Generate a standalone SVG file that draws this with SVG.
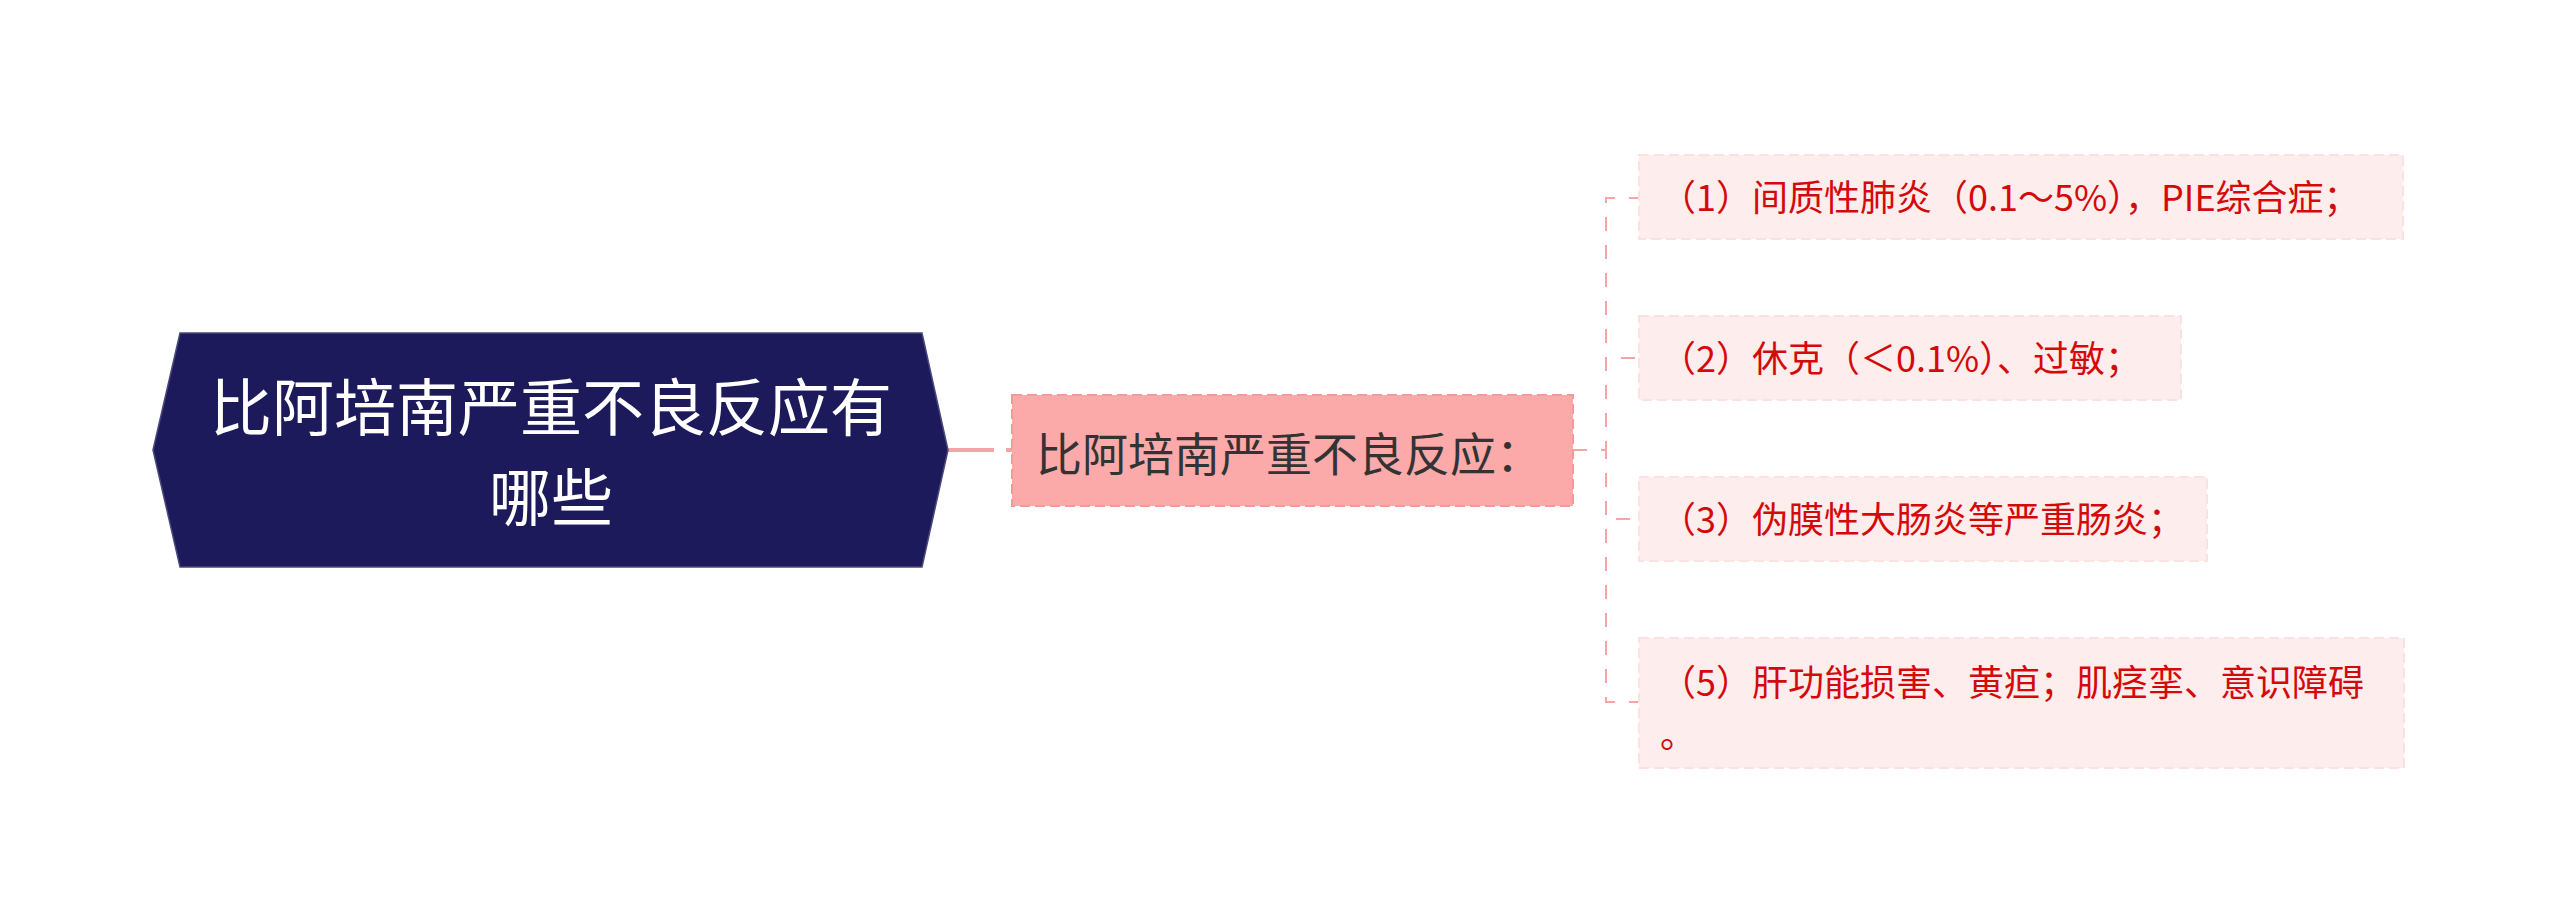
<svg xmlns="http://www.w3.org/2000/svg" width="2560" height="924" viewBox="0 0 2560 924">
<style>
.t{font-family:"Noto Sans CJK SC","Noto Sans",sans-serif}
.root{fill:#1c1a5b;stroke:#4a4a7a;stroke-width:1.5}
.rt{fill:#ffffff;font-size:62px}
.mid{fill:#fca9a9;stroke:#f09a9a;stroke-width:2;stroke-dasharray:10 5}
.mt{fill:#333333;font-size:46px}
.leaf{fill:#fdeded;stroke:#fbe2e2;stroke-width:2;stroke-dasharray:10 5}
.lt{fill:#d40a0a;font-size:36px}
.c1{fill:none;stroke:#f4a5a5;stroke-width:4;stroke-dasharray:46 12}
.c2{fill:none;stroke:#f4a5a5;stroke-width:2;stroke-dasharray:14 14}
</style>
<rect width="2560" height="924" fill="#ffffff"/>
<g id="connectors">
<path class="c1" d="M948,450 H1012"/>
<path class="c2" d="M1573,450 H1606 V198 H1639"/>
<path class="c2" d="M1573,450 H1606 V358 H1639"/>
<path class="c2" d="M1573,450 H1606 V519 H1639"/>
<path class="c2" d="M1573,450 H1606 V702 H1639"/>
</g>
<g id="root">
<polygon class="root" points="153,450 180,333 922,333 948,450 922,567 180,567"/>
<text class="t rt" x="551" y="431" text-anchor="middle">比阿培南严重不良反应有</text>
<text class="t rt" x="551" y="521" text-anchor="middle">哪些</text>
</g>
<g id="middle">
<rect class="mid" x="1012" y="395" width="561" height="111"/>
<text class="t mt" x="1036" y="471">比阿培南严重不良反应：</text>
</g>
<g id="leaf1">
<rect class="leaf" x="1639" y="155" width="764" height="84"/>
<text class="t lt" x="1660" y="211">（1）间质性肺炎（0.1～5%），PIE综合症；</text>
</g>
<g id="leaf2">
<rect class="leaf" x="1639" y="316" width="542" height="84"/>
<text class="t lt" x="1660" y="372">（2）休克（＜0.1%）、过敏；</text>
</g>
<g id="leaf3">
<rect class="leaf" x="1639" y="477" width="568" height="84"/>
<text class="t lt" x="1660" y="533">（3）伪膜性大肠炎等严重肠炎；</text>
</g>
<g id="leaf5">
<rect class="leaf" x="1639" y="638" width="765" height="130"/>
<text class="t lt" x="1660" y="696">（5）肝功能损害、黄疸；肌痉挛、意识障碍</text>
<text class="t lt" x="1660" y="748">。</text>
</g>
</svg>
